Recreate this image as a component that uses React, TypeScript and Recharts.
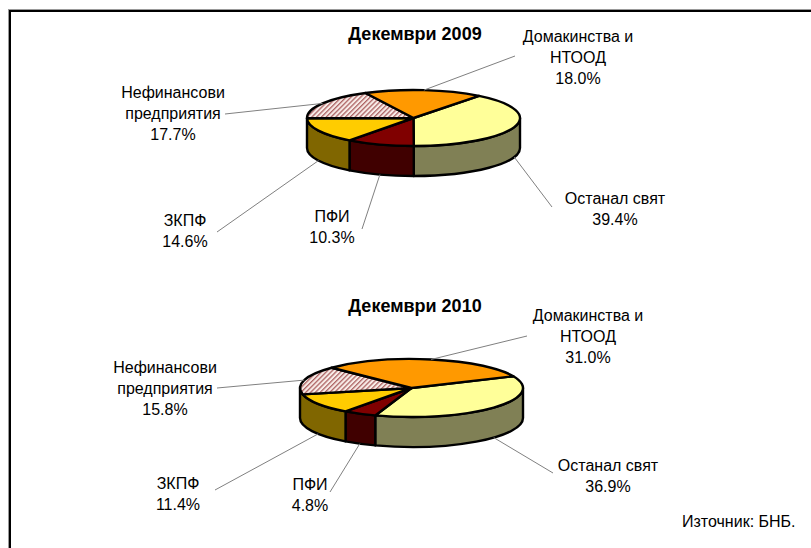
import React from 'react'
import { PieChart, Pie } from 'recharts'

const categories = ['Останал свят', 'ПФИ', 'ЗКПФ', 'Нефинансови\nпредприятия', 'Домакинства и\nНТООД']
const values2009 = [39.4, 10.3, 14.6, 17.7, 18.0]
const values2010 = [36.9, 4.8, 11.4, 15.8, 31.0]

const topColors = ['#FFFF99', '#800000', '#FFCC00', 'url(#hatch)', '#FF9900']
// the two back slices never show a side wall
const wallColors = ['#808055', '#400000', '#806600', null, null]

const FONT = '"Liberation Sans", Arial, sans-serif'
const DEPTH = 30
const LINE_H = 21

type Anchor = { x: number; y: number; endX: number; endY: number }

// where each label sits and where its leader line stops
const anchors2009: Anchor[] = [
  { x: 615, y: 199, endX: 552, endY: 207 },
  { x: 332, y: 217, endX: 362, endY: 229 },
  { x: 185, y: 221, endX: 217, endY: 232 },
  { x: 173, y: 93, endX: 225, endY: 114 },
  { x: 578, y: 37, endX: 515, endY: 56 },
]
const anchors2010: Anchor[] = [
  { x: 608, y: 466, endX: 553, endY: 473 },
  { x: 310, y: 485, endX: 330, endY: 492 },
  { x: 178, y: 484, endX: 215, endY: 490 },
  { x: 165, y: 368, endX: 217, endY: 388 },
  { x: 588, y: 316, endX: 527, endY: 336 },
]

const rad = (deg: number) => (deg * Math.PI) / 180

function makeData(values: number[]) {
  return categories.map((name, i) => ({
    name,
    value: values[i],
    fill: topColors[i],
    wall: wallColors[i],
  }))
}

function makeShape(squash: number) {
  return function TiltedSlice(props: any) {
    const { cx, cy, outerRadius: rx, startAngle, endAngle, fill } = props
    const wall = props.wall ?? props.payload?.wall
    const ry = rx * squash
    const px = (a: number) => cx + rx * Math.cos(rad(a))
    const py = (a: number) => cy - ry * Math.sin(rad(a))
    const large = Math.abs(startAngle - endAngle) > 180 ? 1 : 0

    // gold slice's wall runs on to the left edge of the disc
    const wallEnd = props.name === categories[2] || props.payload?.name === categories[2] ? -180 : endAngle

    const walls: string[] = []
    if (wall) {
      for (const k of [-1, 0, 1]) {
        const hi = Math.min(startAngle, 360 * k)
        const lo = Math.max(wallEnd, -180 + 360 * k)
        if (hi > lo) {
          walls.push(
            `M${px(hi)},${py(hi)} A${rx},${ry} 0 0 1 ${px(lo)},${py(lo)} ` +
              `L${px(lo)},${py(lo) + DEPTH} A${rx},${ry} 0 0 0 ${px(hi)},${py(hi) + DEPTH} Z`
          )
        }
      }
    }

    return (
      <g>
        {walls.map((d, i) => (
          <path key={i} d={d} fill={wall} stroke="#000" strokeWidth={2.4} strokeLinejoin="round" />
        ))}
        <path
          d={`M${cx},${cy} L${px(startAngle)},${py(startAngle)} A${rx},${ry} 0 ${large} 1 ${px(endAngle)},${py(endAngle)} Z`}
          fill={fill}
          stroke="#000"
          strokeWidth={2.4}
          strokeLinejoin="round"
        />
      </g>
    )
  }
}

function makeLabel(anchors: Anchor[], squash: number) {
  return function SliceLabel(props: any) {
    const { cx, cy, outerRadius: rx, midAngle, index, value, name } = props
    const a = anchors[index]
    const s = Math.sin(rad(midAngle))
    const startX = cx + rx * Math.cos(rad(midAngle))
    const startY = cy - rx * squash * s + (s < 0 ? DEPTH : 0)
    const lines = String(name ?? categories[index]).split('\n')
    return (
      <g>
        <line x1={startX} y1={startY} x2={a.endX} y2={a.endY} stroke="#808080" strokeWidth={1} />
        <text textAnchor="middle" fontFamily={FONT} fontSize={16} fill="#000">
          {lines.map((line, i) => (
            <tspan key={i} x={a.x} y={a.y + 5 + i * LINE_H}>
              {line}
            </tspan>
          ))}
          <tspan x={a.x} y={a.y + 5 + lines.length * LINE_H}>
            {Number(value).toFixed(1)}%
          </tspan>
        </text>
      </g>
    )
  }
}

const squash2009 = 28 / 106.5
const squash2010 = 29 / 111.5

export default function App() {
  return (
    <div style={{ position: 'absolute', left: 0, top: 0, width: 811, height: 548, overflow: 'hidden', background: '#fff' }}>
      <div style={{ position: 'absolute', left: 8, top: 9, width: 803, height: 1, background: '#999' }} />
      <div style={{ position: 'absolute', left: 8, top: 9, width: 1, height: 539, background: '#999' }} />
      <div style={{ position: 'absolute', left: 9, top: 10, width: 802, height: 2, background: '#000' }} />
      <div style={{ position: 'absolute', left: 9, top: 10, width: 2, height: 538, background: '#000' }} />
      <PieChart width={811} height={548} margin={{ top: 0, right: 0, bottom: 0, left: 0 }}>
        <defs>
          <pattern id="hatch" width="3.4" height="3.4" patternUnits="userSpaceOnUse" patternTransform="rotate(45)">
            <rect width="3.4" height="3.4" fill="#F8ECE8" />
            <rect width="1.3" height="3.4" fill="#AD6464" />
          </pattern>
        </defs>
        <text x={415} y={40} textAnchor="middle" fontFamily={FONT} fontSize={18} fontWeight="bold" fill="#000">
          Декември 2009
        </text>
        <text x={415} y={312} textAnchor="middle" fontFamily={FONT} fontSize={18} fontWeight="bold" fill="#000">
          Декември 2010
        </text>
        <text x={682} y={527} fontFamily={FONT} fontSize={16} fill="#000">
          Източник: БНБ.
        </text>
        <Pie
          data={makeData(values2009)}
          dataKey="value"
          nameKey="name"
          cx={413.5}
          cy={118}
          innerRadius={0}
          outerRadius={106.5}
          startAngle={52}
          endAngle={-308}
          shape={makeShape(squash2009)}
          label={makeLabel(anchors2009, squash2009)}
          labelLine={false}
          isAnimationActive={false}
        />
        <Pie
          data={makeData(values2010)}
          dataKey="value"
          nameKey="name"
          cx={411.5}
          cy={388}
          innerRadius={0}
          outerRadius={111.5}
          startAngle={24}
          endAngle={-336}
          shape={makeShape(squash2010)}
          label={makeLabel(anchors2010, squash2010)}
          labelLine={false}
          isAnimationActive={false}
        />
      </PieChart>
    </div>
  )
}
